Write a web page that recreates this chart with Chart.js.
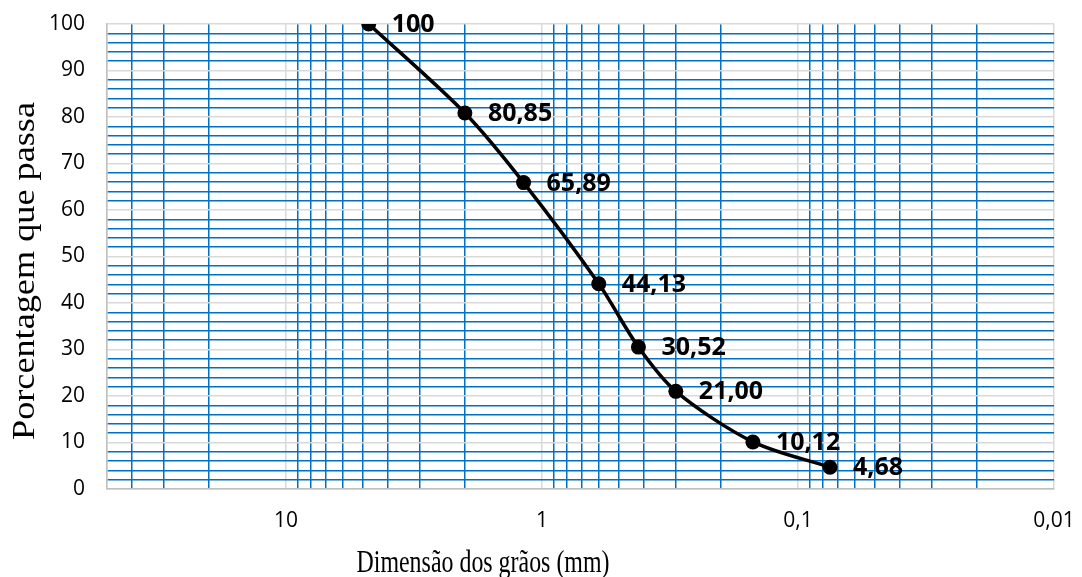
<!DOCTYPE html>
<html lang="pt">
<head>
  <meta charset="UTF-8">
  <title>Curva granulométrica</title>
  <script src="https://cdn.jsdelivr.net/npm/chart.js"></script>
  <style>
    body { margin: 0; background: #fff; }
    canvas { display: block; }
  </style>
</head>
<body>

<canvas id="curve" width="1082" height="577"></canvas>

<script>
// sieve opening (mm) and percentage passing
const sizes = [4.75, 2.0, 1.18, 0.6, 0.42, 0.3, 0.15, 0.075];
const passing = [100, 80.85, 65.89, 44.13, 30.52, 21.00, 10.12, 4.68];

// axis setup
const decades = [0.01, 0.1, 1, 10];
const decadeLabels = ["0,01", "0,1", "1", "10"];
const minorSteps = [1, 2, 3, 4, 5, 6, 7, 8, 9];
const xMin = 0.01, xMax = 50;
const yTicks = [0, 10, 20, 30, 40, 50, 60, 70, 80, 90, 100];

const xTitle = "Dimensão dos grãos (mm)";
const yTitle = "Porcentagem que passa";

const BLUE = "#0070c0";
const GRID = "#d9d9d9";
const AXIS = "#bfbfbf";

function isDecade(v) {
  const l = Math.log10(v);
  return Math.abs(l - Math.round(l)) < 1e-9;
}

function fmt(v) {
  return v === 100 ? "100" : v.toFixed(2).replace(".", ",");
}

// labels to the right of each point
const pointLabels = {
  id: "pointLabels",
  afterDatasetsDraw(chart) {
    const ctx = chart.ctx;
    const meta = chart.getDatasetMeta(0);
    ctx.save();
    ctx.font = 'bold 25px "Open Sans", sans-serif';
    ctx.fillStyle = "#000";
    ctx.textAlign = "left";
    ctx.textBaseline = "middle";
    meta.data.forEach((pt, i) => ctx.fillText(fmt(passing[i]), pt.x + 23, pt.y + 1));
    ctx.restore();
  }
};

// axis titles (placed like the original, a bit off-centre)
const axisTitles = {
  id: "axisTitles",
  afterDraw(chart) {
    const ctx = chart.ctx;
    ctx.save();
    ctx.fillStyle = "#000";
    ctx.font = '32px "Liberation Serif", "Times New Roman", serif';
    ctx.textAlign = "center";
    ctx.textBaseline = "alphabetic";
    let w = ctx.measureText(xTitle).width;
    ctx.translate(483, 572);
    ctx.scale(253 / w, 1);
    ctx.fillText(xTitle, 0, 0);
    ctx.restore();

    ctx.save();
    ctx.fillStyle = "#000";
    ctx.font = '32px "Liberation Serif", "Times New Roman", serif';
    ctx.textAlign = "center";
    ctx.textBaseline = "alphabetic";
    w = ctx.measureText(yTitle).width;
    ctx.translate(34, 271);
    ctx.rotate(-Math.PI / 2);
    ctx.scale(338 / w, 1);
    ctx.fillText(yTitle, 0, 0);
    ctx.restore();
  }
};

new Chart(document.getElementById("curve"), {
  type: "line",
  data: {
    datasets: [{
      data: sizes.map((s, i) => ({ x: s, y: passing[i] })),
      borderColor: "#000",
      backgroundColor: "#000",
      borderWidth: 3.5,
      pointRadius: 7.5,
      pointBackgroundColor: "#000",
      pointBorderWidth: 0,
      tension: 0.3,
      fill: false
    }]
  },
  options: {
    responsive: false,
    animation: false,
    layout: { padding: { top: 24, right: 28, left: 0, bottom: 0 } },
    plugins: {
      legend: { display: false },
      tooltip: { enabled: false }
    },
    scales: {
      x: {
        type: "logarithmic",
        reverse: true,
        min: xMin,
        max: xMax,
        afterBuildTicks: (s) => {
          const t = [];
          decades.forEach(d => minorSteps.forEach(k => {
            const v = k * d;
            if (v <= xMax + 1e-9) t.push({ value: v });
          }));
          s.ticks = t;
        },
        afterFit: (s) => {
          s.height = 88;
          s.paddingLeft = 0; s.paddingRight = 0; s.paddingTop = 0; s.paddingBottom = 0;
        },
        ticks: {
          autoSkip: false,
          maxRotation: 0,
          padding: 19,
          color: "#000",
          font: { family: '"Open Sans", sans-serif', size: 21 },
          callback: (v) => {
            if (!isDecade(v)) return "";
            const i = decades.findIndex(d => Math.abs(d - v) < 1e-9);
            return i >= 0 ? decadeLabels[i] : "";
          }
        },
        grid: {
          drawTicks: false,
          lineWidth: 1.5,
          color: (c) => (c.tick && isDecade(c.tick.value)) || (c.tick && c.tick.value >= xMax - 1e-9) ? GRID : BLUE
        },
        border: { color: AXIS, width: 1.5 }
      },
      y: {
        min: 0,
        max: 100,
        afterFit: (s) => {
          s.width = 107;
          s.paddingLeft = 0; s.paddingRight = 0; s.paddingTop = 0; s.paddingBottom = 0;
        },
        ticks: {
          stepSize: 2,
          autoSkip: false,
          padding: 22,
          color: "#000",
          font: { family: '"Open Sans", sans-serif', size: 21 },
          callback: (v) => yTicks.includes(v) ? v : ""
        },
        grid: {
          drawTicks: false,
          lineWidth: 1.5,
          color: (c) => (c.tick && c.tick.value % 10 === 0) ? GRID : BLUE
        },
        border: { color: AXIS, width: 1.5 }
      }
    }
  },
  plugins: [pointLabels, axisTitles]
});
</script>

</body>
</html>
